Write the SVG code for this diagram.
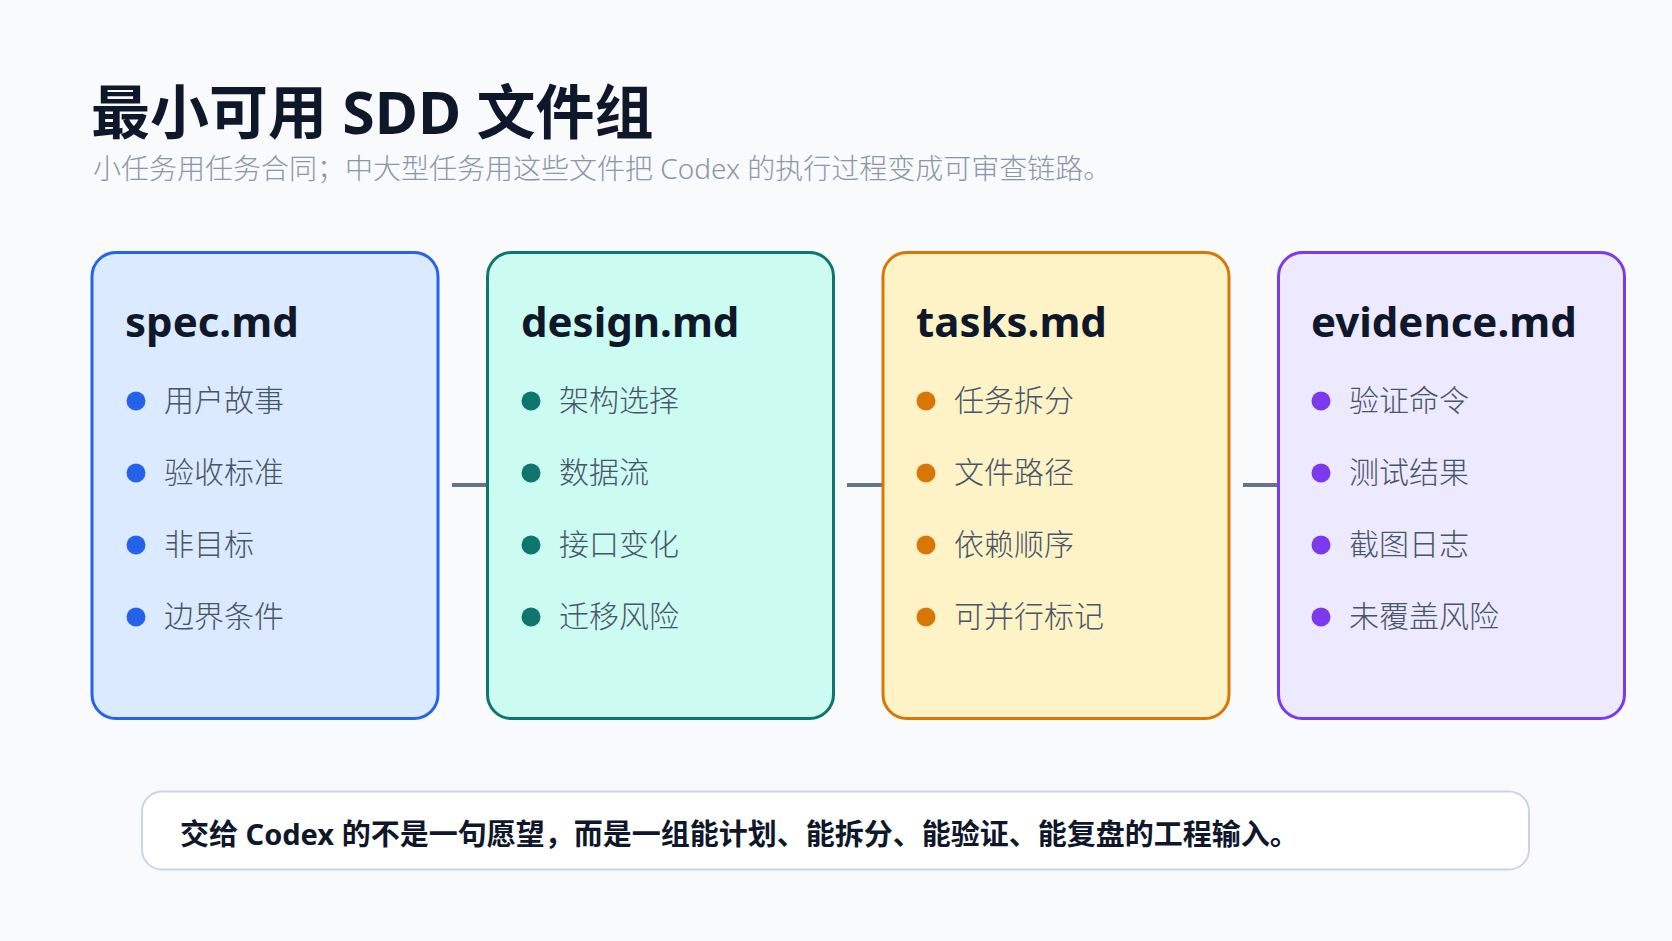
<svg xmlns="http://www.w3.org/2000/svg" width="1672" height="941" viewBox="0 0 1672 941">
  <style>
    .t { font-family: "Noto Sans", "Noto Sans CJK SC", sans-serif; }
    .title { font-size: 59px; font-weight: 700; fill: #0f172a; }
    .sub { font-size: 28px; font-weight: 300; fill: #8c96a8; }
    .ctitle { font-size: 42px; font-weight: 700; fill: #0f172a; }
    .item { font-size: 30px; font-weight: 300; fill: #475569; }
    .note { font-size: 29px; font-weight: 700; fill: #0f172a; }
    .card { stroke-width: 3; }
    .conn { stroke: #64748b; stroke-width: 4; fill: none; }
  </style>
  <rect x="0" y="0" width="1672" height="941" fill="#f8fafc"/>
  <g id="header">
    <text class="t title" x="91" y="134">最小可用 SDD 文件组</text>
    <text class="t sub" x="93" y="179">小任务用任务合同；中大型任务用这些文件把 Codex 的执行过程变成可审查链路。</text>
  </g>
  <g id="connectors">
    <line class="conn" x1="452" y1="485" x2="487" y2="485"/>
    <line class="conn" x1="847" y1="485" x2="882" y2="485"/>
    <line class="conn" x1="1243" y1="485" x2="1278" y2="485"/>
  </g>
  <g id="spec">
    <rect class="card" x="92" y="252.5" width="346" height="466" rx="24" fill="#dbeafe" stroke="#2563eb"/>
    <text class="t ctitle" x="125" y="337">spec.md</text>
    <g fill="#2563eb"><circle cx="136" cy="401" r="9.5"/><circle cx="136" cy="473" r="9.5"/><circle cx="136" cy="545" r="9.5"/><circle cx="136" cy="617" r="9.5"/></g>
    <text class="t item" x="164" y="411">用户故事</text>
    <text class="t item" x="164" y="483">验收标准</text>
    <text class="t item" x="164" y="555">非目标</text>
    <text class="t item" x="164" y="627">边界条件</text>
  </g>
  <g id="design">
    <rect class="card" x="487.5" y="252.5" width="346" height="466" rx="24" fill="#ccfbf1" stroke="#0f766e"/>
    <text class="t ctitle" x="521" y="337">design.md</text>
    <g fill="#0f766e"><circle cx="531" cy="401" r="9.5"/><circle cx="531" cy="473" r="9.5"/><circle cx="531" cy="545" r="9.5"/><circle cx="531" cy="617" r="9.5"/></g>
    <text class="t item" x="559" y="411">架构选择</text>
    <text class="t item" x="559" y="483">数据流</text>
    <text class="t item" x="559" y="555">接口变化</text>
    <text class="t item" x="559" y="627">迁移风险</text>
  </g>
  <g id="tasks">
    <rect class="card" x="883" y="252.5" width="346" height="466" rx="24" fill="#fef3c7" stroke="#d97706"/>
    <text class="t ctitle" x="916" y="337">tasks.md</text>
    <g fill="#d97706"><circle cx="926" cy="401" r="9.5"/><circle cx="926" cy="473" r="9.5"/><circle cx="926" cy="545" r="9.5"/><circle cx="926" cy="617" r="9.5"/></g>
    <text class="t item" x="954" y="411">任务拆分</text>
    <text class="t item" x="954" y="483">文件路径</text>
    <text class="t item" x="954" y="555">依赖顺序</text>
    <text class="t item" x="954" y="627">可并行标记</text>
  </g>
  <g id="evidence">
    <rect class="card" x="1278.5" y="252.5" width="346" height="466" rx="24" fill="#ede9fe" stroke="#7c3aed"/>
    <text class="t ctitle" x="1311" y="337">evidence.md</text>
    <g fill="#7c3aed"><circle cx="1321" cy="401" r="9.5"/><circle cx="1321" cy="473" r="9.5"/><circle cx="1321" cy="545" r="9.5"/><circle cx="1321" cy="617" r="9.5"/></g>
    <text class="t item" x="1349" y="411">验证命令</text>
    <text class="t item" x="1349" y="483">测试结果</text>
    <text class="t item" x="1349" y="555">截图日志</text>
    <text class="t item" x="1349" y="627">未覆盖风险</text>
  </g>
  <g id="note">
    <rect x="142" y="791.5" width="1387" height="78" rx="20" fill="#ffffff" stroke="#cbd5e1" stroke-width="2"/>
    <text class="t note" x="180" y="845">交给 Codex 的不是一句愿望，而是一组能计划、能拆分、能验证、能复盘的工程输入。</text>
  </g>
</svg>
